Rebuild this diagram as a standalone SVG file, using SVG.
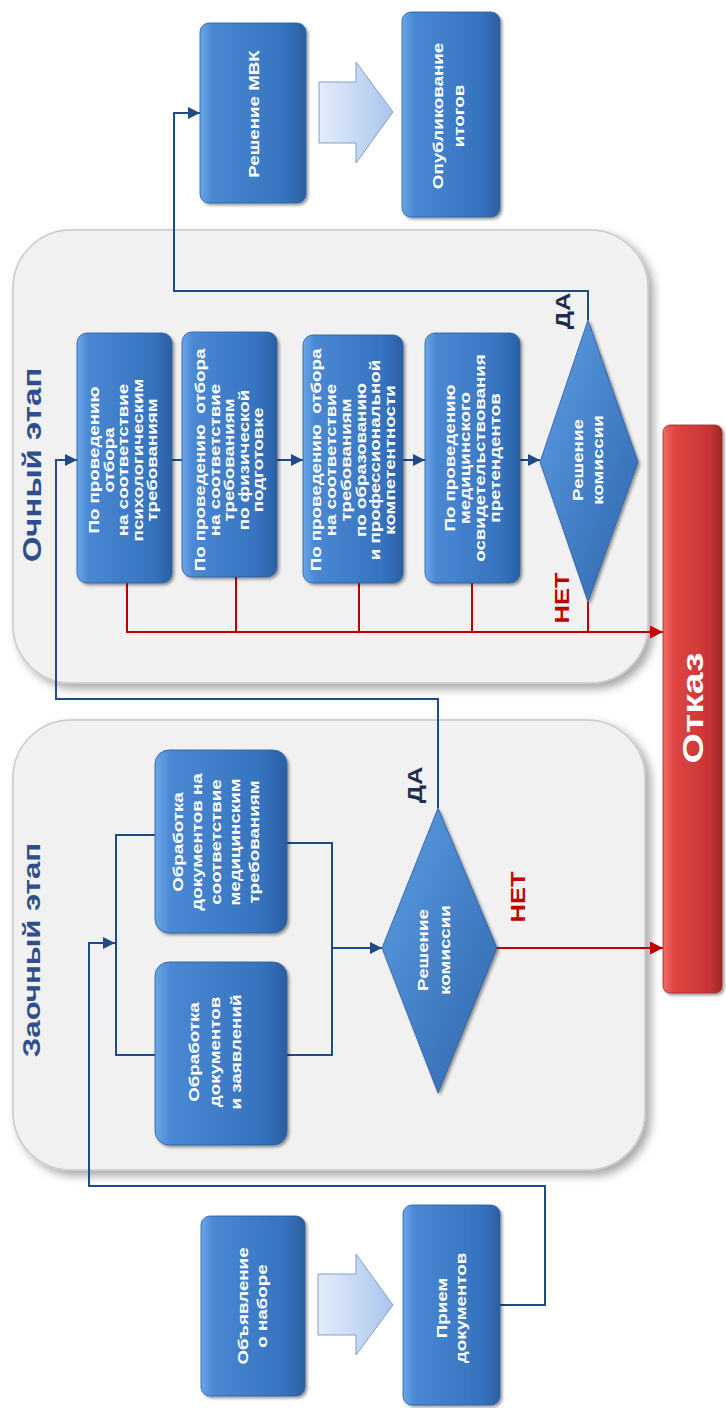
<svg xmlns="http://www.w3.org/2000/svg" width="726" height="1408" viewBox="0 0 726 1408">
<defs>
<linearGradient id="gBox" x1="0" y1="0" x2="1" y2="0">
<stop offset="0" stop-color="#6aa6e8"/>
<stop offset="0.12" stop-color="#4a88d3"/>
<stop offset="0.8" stop-color="#3673bf"/>
<stop offset="1" stop-color="#2b5fa3"/>
</linearGradient>
<linearGradient id="gDia" x1="0" y1="0" x2="1" y2="1">
<stop offset="0" stop-color="#5d9de4"/>
<stop offset="1" stop-color="#2e66ad"/>
</linearGradient>
<linearGradient id="gArr" x1="0" y1="0" x2="1" y2="0">
<stop offset="0" stop-color="#e3edfb"/>
<stop offset="1" stop-color="#a9c5ec"/>
</linearGradient>
<linearGradient id="gRed" x1="0" y1="0" x2="1" y2="0">
<stop offset="0" stop-color="#f06a66"/>
<stop offset="0.2" stop-color="#df4543"/>
<stop offset="0.8" stop-color="#c73534"/>
<stop offset="1" stop-color="#9e2626"/>
</linearGradient>
<filter id="sh" x="-20%" y="-20%" width="150%" height="150%">
<feDropShadow dx="2" dy="2" stdDeviation="1.8" flood-color="#000" flood-opacity="0.4"/>
</filter>
<filter id="shP" x="-10%" y="-10%" width="125%" height="125%">
<feDropShadow dx="5" dy="5" stdDeviation="5" flood-color="#000" flood-opacity="0.35"/>
</filter>
<marker id="aB" viewBox="0 0 10 10" refX="10" refY="5" markerWidth="12" markerHeight="12" markerUnits="userSpaceOnUse" orient="auto">
<path d="M0,0 L10,5 L0,10 z" fill="#1f4a86"/>
</marker>
<marker id="aR" viewBox="0 0 10 10" refX="10" refY="5" markerWidth="13" markerHeight="13" markerUnits="userSpaceOnUse" orient="auto">
<path d="M0,0 L10,5 L0,10 z" fill="#c00000"/>
</marker>
<style>
.panel{fill:#f1f1f1;stroke:#c9c9c9;stroke-width:1.5}
.box{fill:url(#gBox);stroke:#2a5c9c;stroke-width:0.8}
.dia{fill:url(#gDia);stroke:#2a5c9c;stroke-width:0.8}
.barr{fill:url(#gArr);stroke:#7f9fcf;stroke-width:1}
.red{fill:url(#gRed);stroke:#a32a2a;stroke-width:0.8}
.bt{font-family:"Liberation Sans",Arial,sans-serif;font-weight:bold;fill:#ffffff;font-size:15px;text-anchor:middle;dominant-baseline:central}
.title{font-family:"Liberation Sans",Arial,sans-serif;font-weight:bold;fill:#2f4f8c;font-size:26px;text-anchor:middle;dominant-baseline:central}
.da{font-family:"Liberation Sans",Arial,sans-serif;font-weight:bold;fill:#1f2d4d;font-size:20px;text-anchor:middle;dominant-baseline:central}
.net{font-family:"Liberation Sans",Arial,sans-serif;font-weight:bold;fill:#c00000;font-size:20px;text-anchor:middle;dominant-baseline:central}
.otk{font-family:"Liberation Sans",Arial,sans-serif;font-weight:bold;fill:#ffffff;font-size:29px;text-anchor:middle;dominant-baseline:central}
.cb{fill:none;stroke:#1f4a86;stroke-width:2}
.cr{fill:none;stroke:#c00000;stroke-width:2}
</style>
</defs>

<!-- panels -->
<g id="panel-ochny">
<rect class="panel" x="13" y="230" width="635" height="453" rx="58" ry="58" filter="url(#shP)"/>
<text class="title" transform="translate(32,465) rotate(-90) scale(1.27,1)">Очный этап</text>
</g>
<g id="panel-zaochny">
<rect class="panel" x="13" y="720" width="632" height="450" rx="58" ry="58" filter="url(#shP)"/>
<text class="title" transform="translate(32,950) rotate(-90) scale(1.27,1)" style="font-size:24.5px">Заочный этап</text>
</g>

<!-- connectors -->
<g id="connectors">
<polyline class="cb" points="500,1305 545,1305 545,1186 89,1186 89,943 115,943" marker-end="url(#aB)"/>
<polyline class="cb" points="155,835 116,835 116,1055 155,1055"/>
<polyline class="cb" points="287,843 332,843 332,1055 287,1055"/>
<line class="cb" x1="332" y1="948" x2="382" y2="948" marker-end="url(#aB)"/>
<polyline class="cb" points="438,808 438,699 56,699 56,460 77,460" marker-end="url(#aB)"/>
<line class="cb" x1="172" y1="460" x2="182" y2="460"/>
<line class="cb" x1="277" y1="460" x2="303" y2="460" marker-end="url(#aB)"/>
<line class="cb" x1="403" y1="460" x2="425" y2="460" marker-end="url(#aB)"/>
<line class="cb" x1="520" y1="460" x2="540" y2="460" marker-end="url(#aB)"/>
<polyline class="cb" points="588,320 588,291 174,291 174,113 200,113" marker-end="url(#aB)"/>
<line class="cr" x1="497" y1="948" x2="663" y2="948" marker-end="url(#aR)"/>
<polyline class="cr" points="127,583 127,632 663,632" marker-end="url(#aR)"/>
<line class="cr" x1="236" y1="577" x2="236" y2="632"/>
<line class="cr" x1="359" y1="583" x2="359" y2="632"/>
<line class="cr" x1="472" y1="583" x2="472" y2="632"/>
<line class="cr" x1="588" y1="602" x2="588" y2="632"/>
</g>

<!-- bottom nodes -->
<g id="n-obyavlenie">
<rect class="box" x="201" y="1216" width="104" height="180" rx="9" filter="url(#sh)"/>
<text class="bt" transform="translate(252.5,1306) rotate(-90) scale(1.25,1)"><tspan x="0" y="-9.5">Объявление</tspan><tspan x="0" y="9.5">о наборе</tspan></text>
</g>
<g id="arrow-bottom">
<polygon class="barr" points="318,1274 356,1274 356,1254 393,1305 356,1355 356,1335 318,1335"/>
</g>
<g id="n-priem">
<rect class="box" x="403" y="1205" width="97" height="200" rx="9" filter="url(#sh)"/>
<text class="bt" transform="translate(451.5,1308) rotate(-90) scale(1.25,1)"><tspan x="0" y="-9.5">Прием</tspan><tspan x="0" y="9.5">документов</tspan></text>
</g>

<!-- Zaochny nodes -->
<g id="n-zayavl">
<rect class="box" x="155" y="962" width="132" height="183" rx="14" filter="url(#sh)"/>
<text class="bt" transform="translate(215,1052) rotate(-90) scale(1.25,1)"><tspan x="0" y="-21">Обработка</tspan><tspan x="0" y="0">документов</tspan><tspan x="0" y="21">и заявлений</tspan></text>
</g>
<g id="n-med">
<rect class="box" x="155" y="750" width="132" height="183" rx="14" filter="url(#sh)"/>
<text class="bt" transform="translate(216,842) rotate(-90) scale(1.25,1)"><tspan x="0" y="-38">Обработка</tspan><tspan x="0" y="-19">документов на</tspan><tspan x="0" y="0">соответствие</tspan><tspan x="0" y="19">медицинским</tspan><tspan x="0" y="38">требованиям</tspan></text>
</g>
<g id="d-zaochny">
<polygon class="dia" points="438,808 497,948 438,1093 382,948" filter="url(#sh)"/>
<text class="bt" transform="translate(434,950) rotate(-90) scale(1.25,1)"><tspan x="0" y="-11">Решение</tspan><tspan x="0" y="11">комиссии</tspan></text>
<text class="da" transform="translate(415,785) rotate(-90) scale(1.27,1)">ДА</text>
<text class="net" transform="translate(518,897) rotate(-90) scale(1.27,1)">НЕТ</text>
</g>

<!-- Ochny nodes -->
<g id="n-psy">
<rect class="box" x="77" y="333" width="95" height="250" rx="10" filter="url(#sh)"/>
<text class="bt" transform="translate(123,460) rotate(-90) scale(1.25,1)"><tspan x="0" y="-29">По проведению</tspan><tspan x="0" y="-14.5">отбора</tspan><tspan x="0" y="0">на соответствие</tspan><tspan x="0" y="14.5">психологическим</tspan><tspan x="0" y="29">требованиям</tspan></text>
</g>
<g id="n-phys">
<rect class="box" x="182" y="332" width="95" height="245" rx="10" filter="url(#sh)"/>
<text class="bt" transform="translate(229,460) rotate(-90) scale(1.25,1)"><tspan x="0" y="-29">По проведению&#160; отбора</tspan><tspan x="0" y="-14.5">на соответствие</tspan><tspan x="0" y="0">требованиям</tspan><tspan x="0" y="14.5">по физической</tspan><tspan x="0" y="29">подготовке</tspan></text>
</g>
<g id="n-obr">
<rect class="box" x="303" y="335" width="100" height="248" rx="10" filter="url(#sh)"/>
<text class="bt" transform="translate(353,460) rotate(-90) scale(1.25,1)"><tspan x="0" y="-37">По проведению&#160; отбора</tspan><tspan x="0" y="-22.2">на соответствие</tspan><tspan x="0" y="-7.4">требованиям</tspan><tspan x="0" y="7.4">по образованию</tspan><tspan x="0" y="22.2">и профессиональной</tspan><tspan x="0" y="37">компетентности</tspan></text>
</g>
<g id="n-medosv">
<rect class="box" x="425" y="333" width="95" height="250" rx="10" filter="url(#sh)"/>
<text class="bt" transform="translate(472,458) rotate(-90) scale(1.25,1)"><tspan x="0" y="-22.5">По проведению</tspan><tspan x="0" y="-7.5">медицинского</tspan><tspan x="0" y="7.5">освидетельствования</tspan><tspan x="0" y="22.5">претендентов</tspan></text>
</g>
<g id="d-ochny">
<polygon class="dia" points="588,320 638,462 588,602 540,462" filter="url(#sh)"/>
<text class="bt" transform="translate(588,460) rotate(-90) scale(1.25,1)"><tspan x="0" y="-10">Решение</tspan><tspan x="0" y="10">комиссии</tspan></text>
<text class="da" transform="translate(563,311) rotate(-90) scale(1.27,1)">ДА</text>
<text class="net" transform="translate(562,598) rotate(-90) scale(1.27,1)">НЕТ</text>
</g>

<!-- top nodes -->
<g id="n-mvk">
<rect class="box" x="200" y="23" width="106" height="180" rx="9" filter="url(#sh)"/>
<text class="bt" transform="translate(254,114) rotate(-90) scale(1.25,1)">Решение МВК</text>
</g>
<g id="arrow-top">
<polygon class="barr" points="319,82 356,82 356,62 393,112 356,163 356,143 319,143"/>
</g>
<g id="n-publ">
<rect class="box" x="402" y="12" width="98" height="205" rx="9" filter="url(#sh)"/>
<text class="bt" transform="translate(448,116) rotate(-90) scale(1.25,1)"><tspan x="0" y="-10.5">Опубликование</tspan><tspan x="0" y="10.5">итогов</tspan></text>
</g>

<!-- Otkaz -->
<g id="n-otkaz">
<rect class="red" x="663" y="425" width="59" height="568" rx="7" filter="url(#sh)"/>
<text class="otk" transform="translate(693,708) rotate(-90) scale(1.35,1)">Отказ</text>
</g>
</svg>
